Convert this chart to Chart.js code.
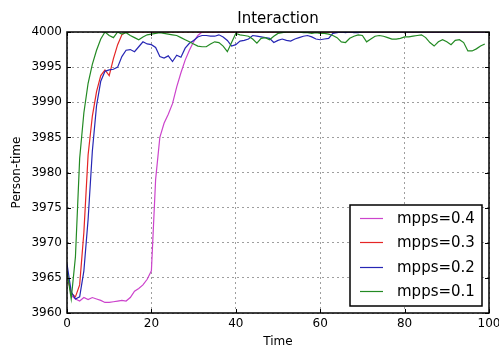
<!DOCTYPE html>
<html>
<head>
<meta charset="utf-8">
<script src="https://cdn.jsdelivr.net/npm/chart.js@4.4.1/dist/chart.umd.min.js"></script>
<style>
  html,body{margin:0;padding:0;background:#fff}
  canvas{display:block}
</style>
</head>
<body>
<canvas id="chart" width="499" height="349"></canvas>
<script>
const times=[0,1,2,3,4,5,6,7,8,9,10,11,12,13,14,15,16,17,18,19,
20,21,22,23,24,25,26,27,28,29,30,31,32,33,34,35,36,37,38,39,
40,41,42,43,44,45,46,47,48,49,50,51,52,53,54,55,56,57,58,59,
60,61,62,63,64,65,66,67,68,69,70,71,72,73,74,75,76,77,78,79,
80,81,82,83,84,85,86,87,88,89,90,91,92,93,94,95,96,97,98,99]

const mpps04=[3966,3962.5,3962,3961.7,3962.2,3961.9,3962.2,3962,3961.8,3961.5,
3961.5,3961.6,3961.7,3961.8,3961.7,3962.2,3963.1,3963.5,3964,3964.8,
3966,3979,3985,3987,3988.3,3989.8,3992.2,3994.2,3996,3997.4,
3998.6,3999.5,4000,4000,4000,4000,4000,4000,4000,4000,
4000,4000,4000,4000,4000,4000,4000,4000,4000,4000,
4000,4000,4000,4000,4000,4000,4000,4000,4000,4000,
4000,4000,4000,4000,4000,4000,4000,4000,4000,4000,
4000,4000,4000,4000,4000,4000,4000,4000,4000,4000,
4000,4000,4000,4000,4000,4000,4000,4000,4000,4000,
4000,4000,4000,4000,4000,4000,4000,4000,4000,4000]

const mpps03=[3965.5,3962.8,3962.3,3964,3971.5,3982.5,3988,3991.5,3993.8,3994.6,
3993.8,3996.2,3998.2,3999.6,4000,4000,4000,4000,4000,4000,
4000,4000,4000,4000,4000,4000,4000,4000,4000,4000,
4000,4000,4000,4000,4000,4000,4000,4000,4000,4000,
4000,4000,4000,4000,4000,4000,4000,4000,4000,4000,
4000,4000,4000,4000,4000,4000,4000,4000,4000,4000,
4000,4000,4000,4000,4000,4000,4000,4000,4000,4000,
4000,4000,4000,4000,4000,4000,4000,4000,4000,4000,
4000,4000,4000,4000,4000,4000,4000,4000,4000,4000,
4000,4000,4000,4000,4000,4000,4000,4000,4000,4000]

const mpps02=[3967,3963,3962,3962.3,3966,3973.3,3983,3989.5,3993,3994.4,
3994.6,3994.7,3995,3996.5,3997.4,3997.5,3997.2,3997.9,3998.6,3998.3,
3998.2,3997.8,3996.5,3996.3,3996.6,3995.8,3996.7,3996.4,3997.7,3998.4,
3998.8,3999.3,3999.5,3999.5,3999.4,3999.4,3999.6,3999.3,3998.8,3998,
3998.2,3998.7,3998.8,3999,3999.5,3999.4,3999.3,3999.2,3999.1,3998.5,
3998.8,3999,3998.8,3998.7,3999,3999.2,3999.4,3999.5,3999.3,3999,
3998.9,3999,3999.1,3999.8,3999.9,4000,3999.9,4000,3999.9,3999.9,
4000,4000,4000,4000,4000,4000,4000,4000,4000,4000,
4000,4000,4000,4000,4000,4000,4000,4000,4000,4000,
4000,4000,4000,4000,4000,4000,4000,4000,4000,4000]

const mpps01=[3966,3962,3968,3982,3988.5,3992.7,3995.4,3997.4,3999,4000,
3999.5,3999.2,4000,3999.7,3999.9,3999.5,3999.2,3998.9,3999.3,3999.6,
3999.7,3999.8,3999.9,3999.8,3999.7,3999.6,3999.5,3999.2,3998.9,3998.6,
3998.3,3998,3997.9,3997.9,3998.3,3998.6,3998.5,3998,3997.2,3998.5,
3999.8,3999.6,3999.5,3999.4,3999,3998.4,3999.1,3999.2,3998.9,3999.4,
3999.8,3999.9,4000,4000,4000,4000,3999.9,3999.9,3999.8,3999.9,
3999.8,3999.8,3999.7,3999.5,3999.2,3998.6,3998.5,3999.1,3999.4,3999.6,
3999.5,3998.6,3999,3999.4,3999.5,3999.4,3999.2,3999,3999,3999.1,
3999.3,3999.3,3999.4,3999.5,3999.6,3999.2,3998.5,3998,3998.6,3998.9,
3998.6,3998.2,3998.8,3998.9,3998.5,3997.3,3997.3,3997.6,3998,3998.3]

const seriesNames=['mpps=0.1','mpps=0.2','mpps=0.3','mpps=0.4']
const seriesColors=['#238a23','#2626b4','#e52525','#cc44cc']
const seriesValues=[mpps01,mpps02,mpps03,mpps04]

const font='"DejaVu Sans", sans-serif'

function points(values){
    return values.map((v,i)=>({x:times[i],y:v}))
}

// black frame with inward ticks, drawn over the lines like matplotlib
const frame={
    id:'frame',
    afterDatasetsDraw(chart){
        const {ctx,chartArea:a,scales}=chart
        ctx.save()
        ctx.strokeStyle='#000'
        ctx.lineWidth=1
        for(const t of scales.x.ticks){
            const px=Math.round(scales.x.getPixelForValue(t.value))+0.5
            ctx.beginPath()
            ctx.moveTo(px,a.bottom);ctx.lineTo(px,a.bottom-4)
            ctx.moveTo(px,a.top);ctx.lineTo(px,a.top+4)
            ctx.stroke()
        }
        for(const t of scales.y.ticks){
            const py=Math.round(scales.y.getPixelForValue(t.value))+0.5
            ctx.beginPath()
            ctx.moveTo(a.left,py);ctx.lineTo(a.left+4,py)
            ctx.moveTo(a.right,py);ctx.lineTo(a.right-4,py)
            ctx.stroke()
        }
        ctx.lineWidth=1.5
        ctx.strokeRect(a.left,a.top,a.right-a.left,a.bottom-a.top)
        ctx.restore()
    }
}

// legend box in the lower right corner of the plot
const boxLegend={
    id:'boxLegend',
    afterDraw(chart){
        const {ctx,chartArea:a}=chart
        const w=132,h=101
        const x=a.right-7-w,y=a.bottom-7-h
        ctx.save()
        ctx.fillStyle='#fff'
        ctx.fillRect(x,y,w,h)
        ctx.strokeStyle='#000'
        ctx.lineWidth=1.5
        ctx.strokeRect(x,y,w,h)
        ctx.font='15px '+font
        ctx.textBaseline='middle'
        const ds=chart.data.datasets.slice().reverse()
        ds.forEach((d,i)=>{
            const cy=Math.round(y+13+i*24.4)+0.5
            ctx.strokeStyle=d.borderColor
            ctx.lineWidth=1.2
            ctx.beginPath()
            ctx.moveTo(x+10,cy);ctx.lineTo(x+33,cy)
            ctx.stroke()
            ctx.fillStyle='#000'
            ctx.fillText(d.label,x+47,cy+1)
        })
        ctx.restore()
    }
}

const ctx=document.getElementById('chart')
new Chart(ctx,{
    type:'line',
    data:{
        datasets:seriesValues.map((vals,i)=>({
            label:seriesNames[i],
            data:points(vals),
            borderColor:seriesColors[i],
            backgroundColor:seriesColors[i],
            borderWidth:1.2,
            pointRadius:0,
            tension:0,
            fill:false
        }))
    },
    options:{
        responsive:false,
        animation:false,
        layout:{padding:{left:0,right:10,top:0,bottom:0}},
        plugins:{
            legend:{display:false},
            tooltip:{enabled:false},
            title:{
                display:true,
                text:'Interaction',
                fullSize:false,
                color:'#000',
                font:{family:font,size:15,weight:'normal'},
                padding:{top:10,bottom:4}
            }
        },
        scales:{
            x:{
                type:'linear',
                min:0,max:100,
                ticks:{stepSize:20,padding:4,color:'#000',font:{family:font,size:12},maxRotation:0,callback:v=>String(v)},
                grid:{color:'rgba(0,0,0,0.38)',lineWidth:1,drawTicks:false},
                border:{display:false,dash:[2,3]},
                title:{display:true,text:'Time',color:'#000',font:{family:font,size:12},padding:{top:0,bottom:0}},
                afterFit(s){s.height=36;s.paddingLeft=0;s.paddingRight=0}
            },
            y:{
                type:'linear',
                min:3960,max:4000,
                ticks:{stepSize:5,padding:5,color:'#000',font:{family:font,size:12},callback:v=>String(v)},
                grid:{color:'rgba(0,0,0,0.38)',lineWidth:1,drawTicks:false},
                border:{display:false,dash:[2,3]},
                title:{display:true,text:'Person-time',color:'#000',font:{family:font,size:12},padding:{top:10,bottom:0}},
                afterFit(s){s.width=67;s.paddingTop=0;s.paddingBottom=0}
            }
        }
    },
    plugins:[frame,boxLegend]
})
</script>
</body>
</html>
